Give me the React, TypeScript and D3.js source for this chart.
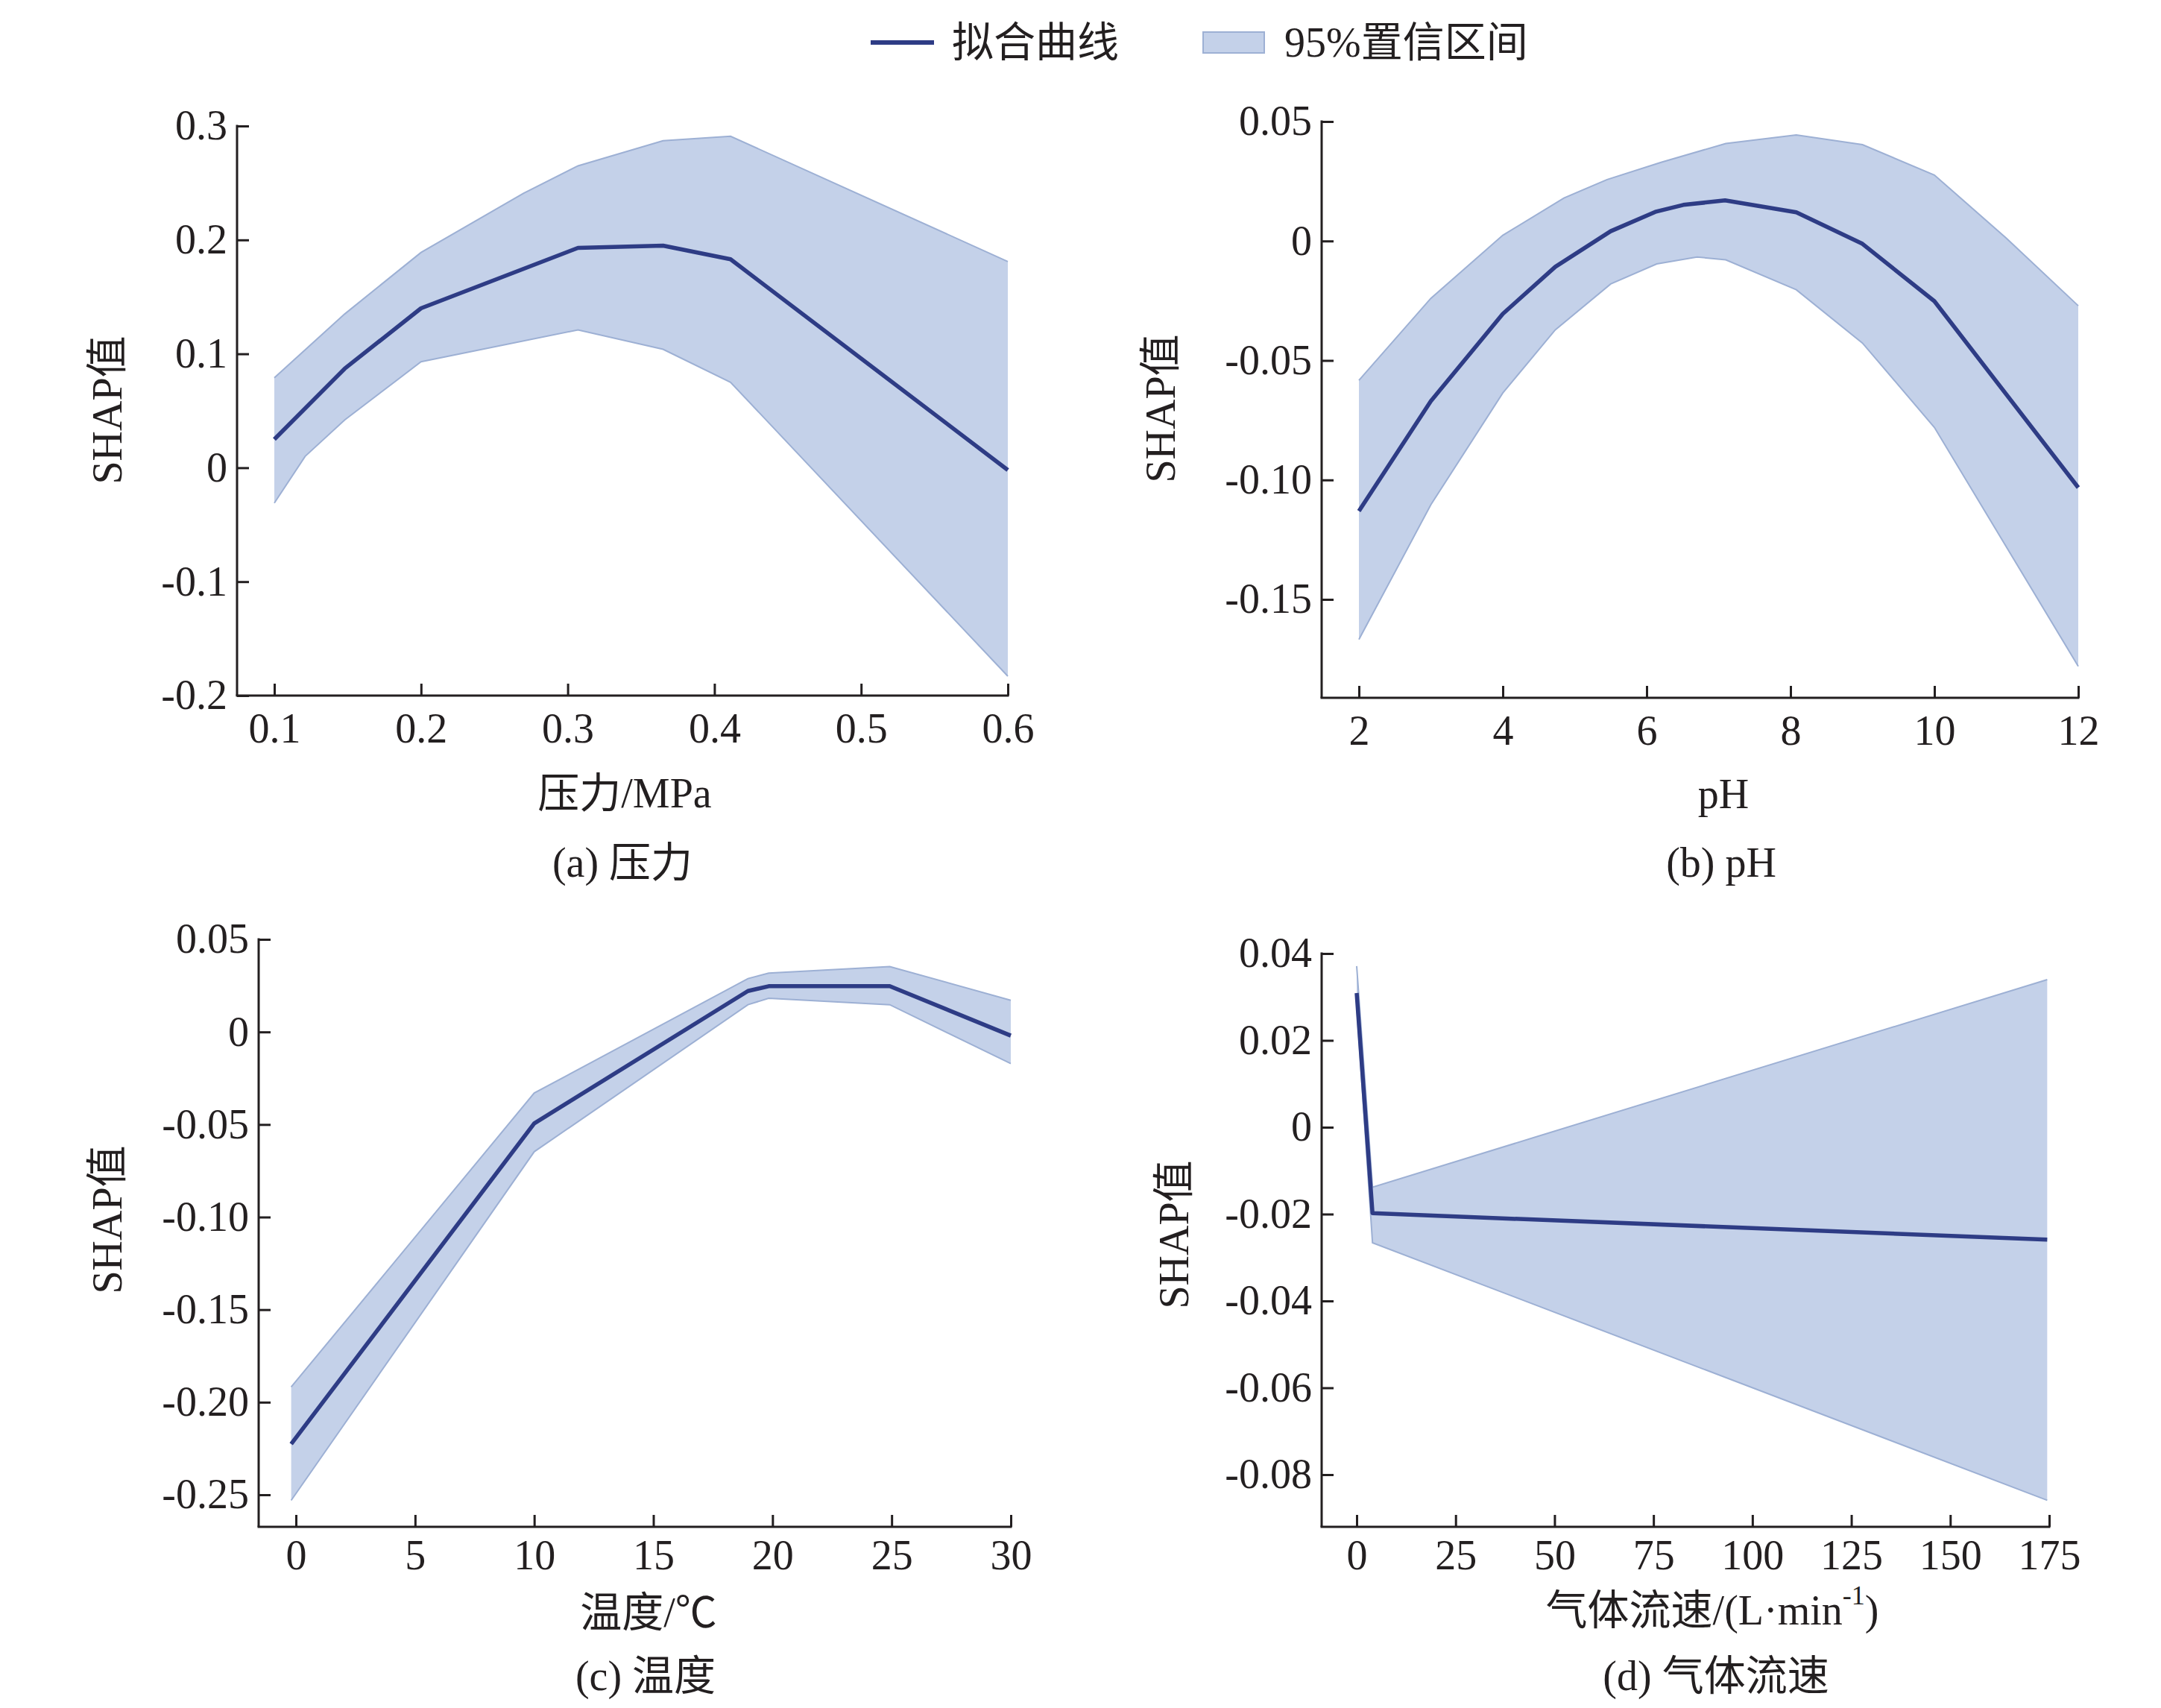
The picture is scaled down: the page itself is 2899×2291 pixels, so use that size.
import { useEffect, useRef } from "react";
import * as d3 from "d3";

type Pt = [number, number];

const W = 2899;
const H = 2291;
const FONT = "'Liberation Serif', 'Times New Roman', 'Noto Sans CJK SC', serif";
const INK = "#231f20";
const LINE = "#2e3c85";
const BAND = "#c4d1e9";
const BAND_EDGE = "#9db0d4";

// (a) 压力
const pressureFit: Pt[] = [
  [0.1, 0.025], [0.148, 0.087], [0.2, 0.14], [0.307, 0.193],
  [0.365, 0.195], [0.411, 0.183], [0.6, -0.002],
];
const pressureUpper: Pt[] = [
  [0.1, 0.079], [0.148, 0.135], [0.2, 0.189], [0.27, 0.241], [0.307, 0.265],
  [0.365, 0.287], [0.411, 0.291], [0.6, 0.181],
];
const pressureLower: Pt[] = [
  [0.1, -0.031], [0.121, 0.01], [0.148, 0.042], [0.2, 0.093], [0.307, 0.121],
  [0.365, 0.104], [0.411, 0.075], [0.6, -0.183],
];
const pressureXTicks = [0.1, 0.2, 0.3, 0.4, 0.5, 0.6];
const pressureYTicks = [-0.2, -0.1, 0, 0.1, 0.2, 0.3];

// (b) pH
const phFit: Pt[] = [
  [2, -0.113], [3, -0.067], [4, -0.0305], [4.73, -0.0108], [5.5, 0.0041],
  [6.12, 0.0122], [6.51, 0.0151], [7.09, 0.017], [8.08, 0.012], [9, -0.0012],
  [10, -0.0252], [12, -0.1032],
];
const phUpper: Pt[] = [
  [2, -0.0583], [3, -0.024], [4, 0.0024], [4.85, 0.018], [5.45, 0.0257],
  [6.2, 0.0329], [7.1, 0.0408], [8.08, 0.0444], [9, 0.0403], [10, 0.0276],
  [11, 0.0012], [12, -0.0271],
];
const phLower: Pt[] = [
  [2, -0.1668], [3, -0.1104], [4, -0.0636], [4.73, -0.0372], [5.5, -0.018],
  [6.14, -0.0096], [6.7, -0.0067], [7.1, -0.0079], [8.08, -0.0204], [9, -0.0427],
  [10, -0.078], [11, -0.128], [12, -0.178],
];
const phXTicks = [2, 4, 6, 8, 10, 12];
const phYTicks = [-0.15, -0.1, -0.05, 0, 0.05];

// (c) 温度
const tempFit: Pt[] = [
  [-0.2, -0.2226], [10, -0.0494], [18.97, 0.0221], [19.84, 0.0247],
  [24.92, 0.0247], [30, -0.002],
];
const tempUpper: Pt[] = [
  [-0.2, -0.1918], [10, -0.033], [18.97, 0.0288], [19.84, 0.0318],
  [24.92, 0.0353], [30, 0.0171],
];
const tempLower: Pt[] = [
  [-0.2, -0.253], [10, -0.0647], [18.97, 0.0147], [19.84, 0.0182],
  [24.92, 0.0147], [30, -0.0171],
];
const tempXTicks = [0, 5, 10, 15, 20, 25, 30];
const tempYTicks = [-0.25, -0.2, -0.15, -0.1, -0.05, 0, 0.05];

// (d) 气体流速
const flowFit: Pt[] = [[0, 0.0309], [4, -0.0198], [174.5, -0.0259]];
const flowUpper: Pt[] = [[0, 0.0371], [4, -0.0138], [174.5, 0.034]];
const flowLower: Pt[] = [[0, 0.028], [4, -0.0266], [174.5, -0.0859]];
const flowXTicks = [0, 25, 50, 75, 100, 125, 150, 175];
const flowYTicks = [-0.08, -0.06, -0.04, -0.02, 0, 0.02, 0.04];

const fmt1 = (d: number) => (d === 0 ? "0" : d.toFixed(1));
const fmt2 = (d: number) => (Math.abs(d) < 1e-9 ? "0" : d.toFixed(2));
const fmtInt = (d: number) => String(d);

interface Panel {
  fit: Pt[];
  upper: Pt[];
  lower: Pt[];
  xTicks: number[];
  yTicks: number[];
  xFmt: (d: number) => string;
  yFmt: (d: number) => string;
  xTitle: string;
  xTitleSup?: string;
  caption: string;
  spineX: number;
  firstTickX: number;
  lastTickX: number;
  yLowPx: number;
  yHighPx: number;
  spineBottom: number;
  xPad: number;
  yLabelX: number;
  yLabelY: number;
  titleX: number;
  titleY: number;
  captionX: number;
  captionY: number;
}

const panels: Panel[] = [
  {
    fit: pressureFit, upper: pressureUpper, lower: pressureLower,
    xTicks: pressureXTicks, yTicks: pressureYTicks, xFmt: fmt1, yFmt: fmt1,
    xTitle: "压力/MPa", caption: "(a) 压力",
    spineX: 318, firstTickX: 368, lastTickX: 1352,
    yLowPx: 933, yHighPx: 169, spineBottom: 933, xPad: 23,
    yLabelX: 144, yLabelY: 550, titleX: 838, titleY: 1064, captionX: 835, captionY: 1157,
  },
  {
    fit: phFit, upper: phUpper, lower: phLower,
    xTicks: phXTicks, yTicks: phYTicks, xFmt: fmtInt, yFmt: fmt2,
    xTitle: "pH", caption: "(b) pH",
    spineX: 1773, firstTickX: 1823, lastTickX: 2788,
    yLowPx: 804, yHighPx: 163, spineBottom: 936, xPad: 23,
    yLabelX: 1557, yLabelY: 548, titleX: 2312, titleY: 1065, captionX: 2309, captionY: 1157,
  },
  {
    fit: tempFit, upper: tempUpper, lower: tempLower,
    xTicks: tempXTicks, yTicks: tempYTicks, xFmt: fmtInt, yFmt: fmt2,
    xTitle: "温度/℃", caption: "(c) 温度",
    spineX: 347, firstTickX: 397, lastTickX: 1356,
    yLowPx: 2005, yHighPx: 1260, spineBottom: 2048, xPad: 17,
    yLabelX: 144, yLabelY: 1636, titleX: 870, titleY: 2163, captionX: 866, captionY: 2248,
  },
  {
    fit: flowFit, upper: flowUpper, lower: flowLower,
    xTicks: flowXTicks, yTicks: flowYTicks, xFmt: fmtInt, yFmt: fmt2,
    xTitle: "气体流速/(L·min", xTitleSup: "-1", caption: "(d) 气体流速",
    spineX: 1773, firstTickX: 1820, lastTickX: 2749,
    yLowPx: 1978, yHighPx: 1279, spineBottom: 2048, xPad: 17,
    yLabelX: 1575, yLabelY: 1656, titleX: 2297, titleY: 2160, captionX: 2302, captionY: 2248,
  },
];

function drawPanel(svg: d3.Selection<SVGSVGElement, unknown, null, undefined>, p: Panel) {
  const x = d3
    .scaleLinear()
    .domain([p.xTicks[0], p.xTicks[p.xTicks.length - 1]])
    .range([p.firstTickX, p.lastTickX]);
  const y = d3
    .scaleLinear()
    .domain([p.yTicks[0], p.yTicks[p.yTicks.length - 1]])
    .range([p.yLowPx, p.yHighPx]);

  const g = svg.append("g");

  // confidence band: upper edge forward, lower edge back
  const poly = [...p.upper, ...p.lower.slice().reverse()];
  const lineGen = d3.line<Pt>().x((d) => x(d[0])).y((d) => y(d[1]));
  g.append("path")
    .attr("d", lineGen.curve(d3.curveLinearClosed)(poly) ?? "")
    .attr("fill", BAND)
    .attr("stroke", "none");
  lineGen.curve(d3.curveLinear);
  [p.upper, p.lower].forEach((edge) => {
    g.append("path")
      .attr("d", lineGen(edge) ?? "")
      .attr("fill", "none")
      .attr("stroke", BAND_EDGE)
      .attr("stroke-width", 2);
  });

  g.append("path")
    .attr("d", lineGen(p.fit) ?? "")
    .attr("fill", "none")
    .attr("stroke", LINE)
    .attr("stroke-width", 5.5)
    .attr("stroke-linejoin", "round");

  // axes (ticks point inward, spines drawn by hand)
  const yAxis = g
    .append("g")
    .attr("transform", `translate(${p.spineX},0)`)
    .call(
      d3.axisLeft(y).tickValues(p.yTicks).tickFormat((d) => p.yFmt(+d))
        .tickSize(-16).tickSizeOuter(0).tickPadding(13)
    );
  const xAxis = g
    .append("g")
    .attr("transform", `translate(0,${p.spineBottom})`)
    .call(
      d3.axisBottom(x).tickValues(p.xTicks).tickFormat((d) => p.xFmt(+d))
        .tickSize(-16).tickSizeOuter(0).tickPadding(p.xPad)
    );
  [yAxis, xAxis].forEach((ax) => {
    ax.select(".domain").remove();
    ax.attr("font-size", 56).attr("font-family", FONT);
    ax.selectAll("line").attr("stroke", INK).attr("stroke-width", 3);
    ax.selectAll("text").attr("fill", INK);
  });

  g.append("line")
    .attr("x1", p.spineX).attr("x2", p.spineX)
    .attr("y1", p.yHighPx - 1.5).attr("y2", p.spineBottom)
    .attr("stroke", INK).attr("stroke-width", 3);
  g.append("line")
    .attr("x1", p.spineX - 1.5).attr("x2", p.lastTickX + 1.5)
    .attr("y1", p.spineBottom).attr("y2", p.spineBottom)
    .attr("stroke", INK).attr("stroke-width", 3);

  const txt = (tx: number, ty: number) =>
    g.append("text")
      .attr("x", tx).attr("y", ty)
      .attr("text-anchor", "middle")
      .attr("dominant-baseline", "central")
      .attr("font-family", FONT)
      .attr("font-size", 56)
      .attr("fill", INK);

  txt(0, 0)
    .attr("transform", `translate(${p.yLabelX},${p.yLabelY}) rotate(-90)`)
    .text("SHAP值");

  const title = txt(p.titleX, p.titleY);
  title.append("tspan").text(p.xTitle);
  if (p.xTitleSup) {
    title.append("tspan").attr("dy", -20).attr("font-size", 36).text(p.xTitleSup);
    title.append("tspan").attr("dy", 20).text(")");
  }

  txt(p.captionX, p.captionY).text(p.caption);
}

function drawLegend(svg: d3.Selection<SVGSVGElement, unknown, null, undefined>) {
  const g = svg.append("g");
  const cy = 57;
  g.append("line")
    .attr("x1", 1168).attr("x2", 1253).attr("y1", cy).attr("y2", cy)
    .attr("stroke", LINE).attr("stroke-width", 6);
  g.append("text")
    .attr("x", 1277).attr("y", cy)
    .attr("dominant-baseline", "central")
    .attr("font-family", FONT).attr("font-size", 56).attr("fill", INK)
    .text("拟合曲线");
  g.append("rect")
    .attr("x", 1614).attr("y", cy - 14).attr("width", 82).attr("height", 28)
    .attr("fill", BAND).attr("stroke", BAND_EDGE).attr("stroke-width", 2);
  g.append("text")
    .attr("x", 1723).attr("y", cy)
    .attr("dominant-baseline", "central")
    .attr("font-family", FONT).attr("font-size", 56).attr("fill", INK)
    .text("95%置信区间");
}

export default function App() {
  const svgRef = useRef<SVGSVGElement>(null);

  useEffect(() => {
    if (!svgRef.current) return;
    const svg = d3.select(svgRef.current);
    svg.selectAll("*").remove();
    svg.append("rect").attr("width", W).attr("height", H).attr("fill", "#ffffff");
    panels.forEach((p) => drawPanel(svg, p));
    drawLegend(svg);
  }, []);

  return (
    <div style={{ position: "absolute", left: 0, top: 0 }}>
      <svg ref={svgRef} width={W} height={H} style={{ display: "block" }} />
    </div>
  );
}
